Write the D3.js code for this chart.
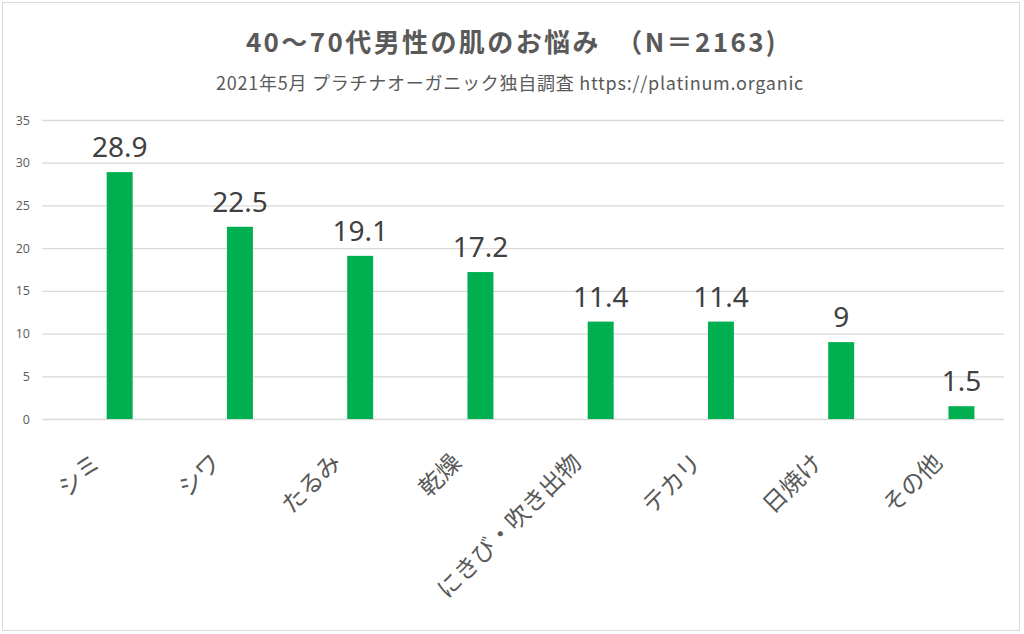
<!DOCTYPE html>
<html>
<head>
<meta charset="utf-8">
<script src="https://cdn.jsdelivr.net/npm/d3@7"></script>
<style>
  body { margin: 0; background: #fff; }
  svg { display: block; }
</style>
</head>
<body>
<div id="chart"></div>
<script>
// data
const categories = ["シミ", "シワ", "たるみ", "乾燥", "にきび・吹き出物", "テカリ", "日焼け", "その他"];
const values = [28.9, 22.5, 19.1, 17.2, 11.4, 11.4, 9, 1.5];
const yTicks = [0, 5, 10, 15, 20, 25, 30, 35];

const title = "40〜70代男性の肌のお悩み　（N＝2163)";
const subtitle = "2021年5月 プラチナオーガニック独自調査 https://platinum.organic";

const width = 1024;
const height = 634;
const textColor = "#595959";
const gridColor = "#d9d9d9";
const barColor = "#00b050";
const jpFont = "'Noto Sans CJK JP', 'Noto Sans', sans-serif";

const svg = d3.select("#chart").append("svg")
  .attr("width", width)
  .attr("height", height);

// chart border
svg.append("rect")
  .attr("x", 2.5)
  .attr("y", 2.5)
  .attr("width", 1017)
  .attr("height", 628)
  .attr("fill", "#fff")
  .attr("stroke", gridColor)
  .attr("stroke-width", 1);

// scales
const x = d3.scaleBand()
  .domain(categories)
  .range([42, 1004]);

const y = d3.scaleLinear()
  .domain([0, 35])
  .range([419, 120]);

// gridlines + y labels
const yAxis = svg.append("g")
  .attr("transform", "translate(42,0)")
  .call(d3.axisLeft(y).tickValues(yTicks).tickSize(-(1004 - 42)).tickPadding(12));

yAxis.select(".domain").remove();
yAxis.selectAll(".tick line")
  .attr("stroke", gridColor)
  .attr("stroke-width", 1.3);
yAxis.selectAll(".tick text")
  .attr("fill", textColor)
  .attr("font-family", "'Open Sans', 'Noto Sans', sans-serif")
  .attr("font-size", "12.5px");

// bars (drawn right of band centre, like Excel with a hidden series)
const barW = x.bandwidth() * 0.216;
const barOffset = x.bandwidth() * 0.538;

svg.append("g").selectAll("rect")
  .data(values)
  .join("rect")
  .attr("x", (d, i) => x(categories[i]) + barOffset)
  .attr("y", d => y(d))
  .attr("width", barW)
  .attr("height", d => y(0) - y(d))
  .attr("fill", barColor);

// value labels
svg.append("g").selectAll("text")
  .data(values)
  .join("text")
  .attr("x", (d, i) => x(categories[i]) + barOffset + barW / 2)
  .attr("y", d => y(d) - 15)
  .attr("text-anchor", "middle")
  .attr("fill", "#404040")
  .attr("font-family", "'Noto Sans', sans-serif")
  .attr("font-size", "28px")
  .text(d => d);

// category labels, rotated
svg.append("g").selectAll("text")
  .data(categories)
  .join("text")
  .attr("transform", d => `translate(${x(d) + x.bandwidth() / 2 - 6},${458}) rotate(-45)`)
  .attr("text-anchor", "end")
  .attr("dy", "0.35em")
  .attr("fill", textColor)
  .attr("font-family", jpFont)
  .attr("font-size", "24px")
  .text(d => d);

// titles
svg.append("text")
  .attr("x", 512)
  .attr("y", 52)
  .attr("text-anchor", "middle")
  .attr("fill", textColor)
  .attr("font-family", jpFont)
  .attr("font-weight", "bold")
  .attr("font-size", "26px")
  .attr("letter-spacing", "2.4px")
  .text(title);

svg.append("text")
  .attr("x", 510)
  .attr("y", 90)
  .attr("text-anchor", "middle")
  .attr("fill", textColor)
  .attr("font-family", jpFont)
  .attr("font-size", "18px")
  .attr("letter-spacing", "0.75px")
  .text(subtitle);
</script>
</body>
</html>
